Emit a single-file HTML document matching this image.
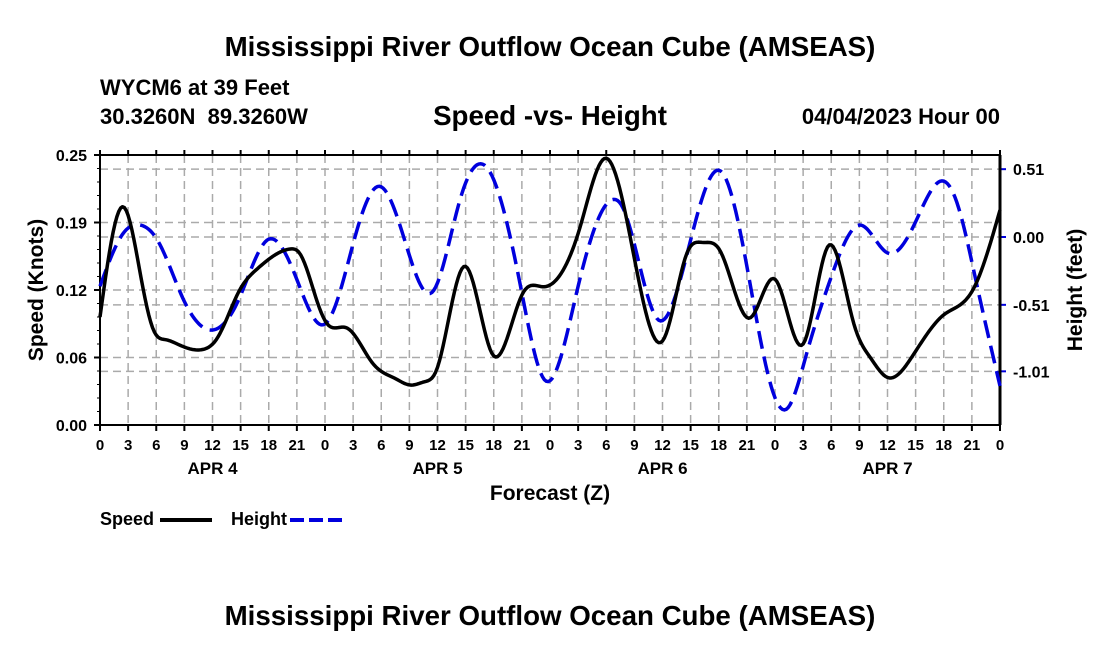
<!DOCTYPE html>
<html><head><meta charset="utf-8"><style>
html,body{margin:0;padding:0;background:#fff;}
svg text{font-family:"Liberation Sans",sans-serif;font-weight:bold;fill:#000;white-space:pre;}
</style></head><body>
<svg id="chart" width="1100" height="650" viewBox="0 0 1100 650" xmlns="http://www.w3.org/2000/svg">
<text x="550" y="56" font-size="27.7" text-anchor="middle">Mississippi River Outflow Ocean Cube (AMSEAS)</text>
<text x="100" y="95" font-size="22">WYCM6 at 39 Feet</text>
<text x="100" y="124" font-size="22">30.3260N&#160;&#160;89.3260W</text>
<text x="550" y="125" font-size="27.7" text-anchor="middle">Speed -vs- Height</text>
<text x="1000" y="124" font-size="22" text-anchor="end">04/04/2023 Hour 00</text>
<g id="grid"></g>
<g id="axes"></g>
<g id="series"></g>
<text x="550" y="500" font-size="21" text-anchor="middle">Forecast (Z)</text>
<text transform="translate(43,290) rotate(-90)" font-size="21" text-anchor="middle">Speed (Knots)</text>
<text transform="translate(1082,290) rotate(-90)" font-size="21" text-anchor="middle">Height (feet)</text>
<g>
<text x="100" y="525" font-size="18">Speed</text>
<line x1="160" y1="520" x2="212" y2="520" stroke="#000" stroke-width="4"/>
</g>
<g>
<text x="231" y="525" font-size="18">Height</text>
<line x1="290" y1="520" x2="342" y2="520" stroke="#0000dd" stroke-width="4" stroke-dasharray="14,5"/>
</g>
<text x="550" y="625" font-size="27.7" text-anchor="middle">Mississippi River Outflow Ocean Cube (AMSEAS)</text>
</svg>
<script>
const speedHours=[0,2.5,4.3,5.7,7,8.5,11,12.4,14.9,16.7,20.3,21.3,23.1,24.2,26.3,29.1,31.5,33.1,34.6,35.9,38.9,41.9,45.1,47.3,51.2,54,57.3,60.1,62.6,64.3,66.1,69.3,72,75,77.7,80.4,82.2,84,86.6,90,93.1,96];
const speedValues=[0.100,0.202,0.140,0.088,0.079,0.074,0.070,0.079,0.125,0.144,0.163,0.159,0.116,0.094,0.090,0.057,0.043,0.037,0.040,0.051,0.147,0.065,0.122,0.128,0.183,0.247,0.141,0.079,0.159,0.169,0.162,0.099,0.135,0.075,0.166,0.094,0.062,0.044,0.063,0.102,0.125,0.199];
const heightHours=[0,2.5,4.3,6.1,8.9,11.9,14.8,17.9,21,23.8,24.8,27.4,29.9,32.7,35.5,38.4,41.3,44.8,47.5,50.9,54.6,55.7,59.5,61.9,66.3,69,71.8,73.3,75.4,77.9,81.1,84,86.9,90,91.3,93.5,96];
const heightValues=[-0.37,0.03,0.09,-0.02,-0.47,-0.70,-0.47,-0.02,-0.32,-0.66,-0.57,0.05,0.38,-0.07,-0.41,0.28,0.52,-0.35,-1.08,-0.40,0.28,0.23,-0.62,-0.32,0.49,-0.22,-1.17,-1.29,-0.87,-0.32,0.09,-0.12,0.10,0.42,0.28,-0.35,-1.12];
const speedTicks=[0,0.0625,0.125,0.1875,0.25];
const speedTickLabels=["0.00","0.06","0.12","0.19","0.25"];
const heightTicks=[0.51,0.00,-0.51,-1.01];
const heightTickLabels=["0.51","0.00","-0.51","-1.01"];
const hourLabels=["0","3","6","9","12","15","18","21"];
const dayLabels=["APR 4","APR 5","APR 6","APR 7"];

const L=100,R=1000,T=155,B=425;
const xs=h=>L+(R-L)*h/96;
const ys=v=>B-(B-T)*v/0.25;
const yh=v=>237-133*v;
const NS="http://www.w3.org/2000/svg";
function mk(tag,attrs,parent){const e=document.createElementNS(NS,tag);for(const k in attrs)e.setAttribute(k,attrs[k]);parent.appendChild(e);return e;}
const grid=document.getElementById('grid'),axes=document.getElementById('axes'),series=document.getElementById('series');
const gs={stroke:"#aaa","stroke-width":1.5,"stroke-dasharray":"8,5"};
for(let h=3;h<96;h+=3){const l=mk('line',Object.assign({x1:xs(h),x2:xs(h),y1:T,y2:B},gs),grid);

}
speedTicks.forEach((v,i)=>{if(i>0&&i<speedTicks.length-1){const l=mk('line',Object.assign({x1:L,x2:R,y1:ys(v),y2:ys(v)},gs),grid);

}
const t=mk('text',{x:L-13,y:ys(v)+6,"font-size":16,"text-anchor":"end"},axes);t.textContent=speedTickLabels[i];


mk('line',{x1:L-6,x2:L,y1:ys(v),y2:ys(v),stroke:"#000","stroke-width":2},axes);});
for(let v=0;v<=0.25;v+=0.0125)mk('line',{x1:L-3,x2:L,y1:ys(v),y2:ys(v),stroke:"#000","stroke-width":1},axes);
heightTicks.forEach((v,i)=>{const l=mk('line',Object.assign({x1:L,x2:R,y1:yh(v),y2:yh(v)},gs),grid);


mk('line',{x1:R,x2:R+6,y1:yh(v),y2:yh(v),stroke:"#0000dd","stroke-width":2},axes);
const t=mk('text',{x:R+13,y:yh(v)+6,"font-size":16},axes);t.textContent=heightTickLabels[i];

});
for(let h=0;h<=96;h+=3){mk('line',{x1:xs(h),x2:xs(h),y1:B,y2:B+6,stroke:"#000","stroke-width":2},axes);
mk('line',{x1:xs(h),x2:xs(h),y1:T-5,y2:T,stroke:"#000","stroke-width":2},axes);
const t=mk('text',{x:xs(h),y:450,"font-size":15,"text-anchor":"middle"},axes);t.textContent=h===96?"0":hourLabels[(h/3)%8];

}
dayLabels.forEach((d,i)=>{const t=mk('text',{x:xs(12+24*i),y:474,"font-size":17,"text-anchor":"middle"},axes);t.textContent=d;

});
mk('rect',{x:L,y:T,width:R-L,height:B-T,fill:"none",stroke:"#000","stroke-width":2},axes);
mk('line',{x1:R,x2:R,y1:T,y2:B,stroke:"#000","stroke-width":3},axes);
function spline(xv,yv){const n=xv.length,h=[],a=[],l=[1],mu=[0],z=[0],c=new Array(n).fill(0),b=[],d=[];
for(let i=0;i<n-1;i++)h.push(xv[i+1]-xv[i]);
for(let i=1;i<n-1;i++)a[i]=3/h[i]*(yv[i+1]-yv[i])-3/h[i-1]*(yv[i]-yv[i-1]);
for(let i=1;i<n-1;i++){l[i]=2*(xv[i+1]-xv[i-1])-h[i-1]*mu[i-1];mu[i]=h[i]/l[i];z[i]=(a[i]-h[i-1]*z[i-1])/l[i];}
for(let j=n-2;j>=0;j--){c[j]=(j>0?z[j]:0)-mu[j]*c[j+1];b[j]=(yv[j+1]-yv[j])/h[j]-h[j]*(c[j+1]+2*c[j])/3;d[j]=(c[j+1]-c[j])/(3*h[j]);}
return t=>{let j=0;while(j<n-2&&t>xv[j+1])j++;const dx=t-xv[j];return yv[j]+b[j]*dx+c[j]*dx*dx+d[j]*dx*dx*dx;};}
function path(hx,vy,fy){const f=spline(hx,vy);let d="";for(let t=hx[0];t<=hx[hx.length-1]+1e-9;t+=0.2){d+=(d?"L":"M")+xs(t).toFixed(2)+","+fy(f(t)).toFixed(2);}return d;}
const hp=mk('path',{d:path(heightHours,heightValues,yh),fill:"none",stroke:"#0000dd","stroke-width":3.5,"stroke-dasharray":"18,8"},series);


const sp=mk('path',{d:path(speedHours,speedValues,ys),fill:"none",stroke:"#000","stroke-width":3.5,"stroke-linejoin":"round"},series);


</script>
</body></html>
